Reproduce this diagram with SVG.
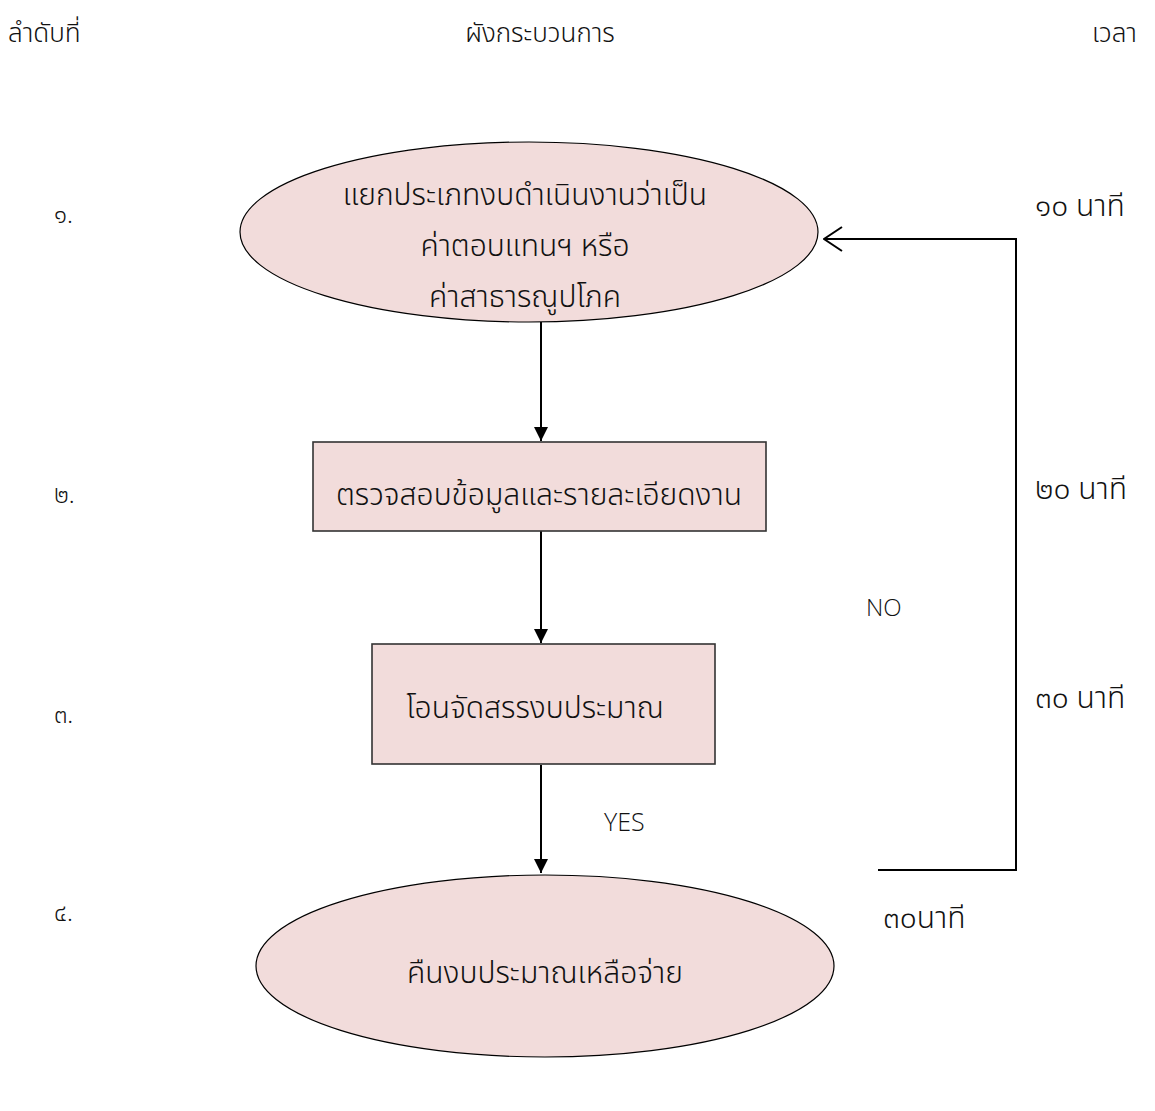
<svg xmlns="http://www.w3.org/2000/svg" width="1155" height="1111" viewBox="0 0 1155 1111">
  <style>
    .t { font-family: "Noto Sans Thai", "Noto Sans", "DejaVu Sans", sans-serif; font-weight: 300; fill: #111; }
    .h { font-size: 26px; }
    .n { font-size: 24px; }
    .m { font-size: 30px; }
    .node { font-size: 30px; }
    .lat { font-family: "Open Sans", "Liberation Sans", sans-serif; font-weight: 300; font-size: 24px; fill: #111; }
    .c { text-anchor: middle; }
    .shape { fill: #f2dcdb; stroke: #000; stroke-width: 1.2; }
    .box { fill: #f2dcdb; stroke: #333; stroke-width: 1.6; }
    .line { fill: none; stroke: #000; stroke-width: 2; }
  </style>
  <defs>
    <marker id="solid" viewBox="0 0 10 10" refX="10" refY="5" markerWidth="14" markerHeight="14" markerUnits="userSpaceOnUse" orient="auto">
      <path d="M0,0 L10,5 L0,10 z" fill="#000"/>
    </marker>
    <marker id="open" viewBox="0 0 20 26" refX="19" refY="13" markerWidth="20" markerHeight="26" markerUnits="userSpaceOnUse" orient="auto">
      <path d="M1,1 L19,13 L1,25" fill="none" stroke="#000" stroke-width="2"/>
    </marker>
  </defs>
  <rect width="1155" height="1111" fill="#fff"/>

  <!-- column headings -->
  <g id="headings" class="t h">
    <text x="8" y="42">ลำดับที่</text>
    <text x="540" y="42" class="c">ผังกระบวนการ</text>
    <text x="1092" y="42">เวลา</text>
  </g>

  <!-- step numbers -->
  <g id="steps" class="t n">
    <text x="54" y="223">๑.</text>
    <text x="54" y="503">๒.</text>
    <text x="54" y="723">๓.</text>
    <text x="54" y="921">๔.</text>
  </g>

  <!-- durations -->
  <g id="durations" class="t m">
    <text x="1035" y="216">๑๐ นาที</text>
    <text x="1035" y="499">๒๐ นาที</text>
    <text x="1035" y="708">๓๐ นาที</text>
    <text x="883" y="928">๓๐นาที</text>
  </g>

  <!-- connectors -->
  <g id="connectors">
    <line class="line" x1="541" y1="322" x2="541" y2="441" marker-end="url(#solid)"/>
    <line class="line" x1="541" y1="531" x2="541" y2="643" marker-end="url(#solid)"/>
    <line class="line" x1="541" y1="765" x2="541" y2="873" marker-end="url(#solid)"/>
    <polyline class="line" points="878,870 1016,870 1016,239 824,239" marker-end="url(#open)"/>
    <text class="lat" x="866" y="616">NO</text>
    <text class="lat" x="604" y="831" style="font-size:25px">YES</text>
  </g>

  <g id="node1">
    <ellipse class="shape" cx="529" cy="232" rx="289" ry="90"/>
    <text class="t node c" x="525" y="205">แยกประเภทงบดำเนินงานว่าเป็น</text>
    <text class="t node c" x="525" y="256">ค่าตอบแทนฯ หรือ</text>
    <text class="t node c" x="525" y="307">ค่าสาธารณูปโภค</text>
  </g>

  <g id="node2">
    <rect class="box" x="313" y="442" width="453" height="89"/>
    <text class="t node c" x="539" y="505">ตรวจสอบข้อมูลและรายละเอียดงาน</text>
  </g>

  <g id="node3">
    <rect class="box" x="372" y="644" width="343" height="120"/>
    <text class="t node c" x="535" y="718">โอนจัดสรรงบประมาณ</text>
  </g>

  <g id="node4">
    <ellipse class="shape" cx="545" cy="966" rx="289" ry="91"/>
    <text class="t node c" x="545" y="983">คืนงบประมาณเหลือจ่าย</text>
  </g>
</svg>
